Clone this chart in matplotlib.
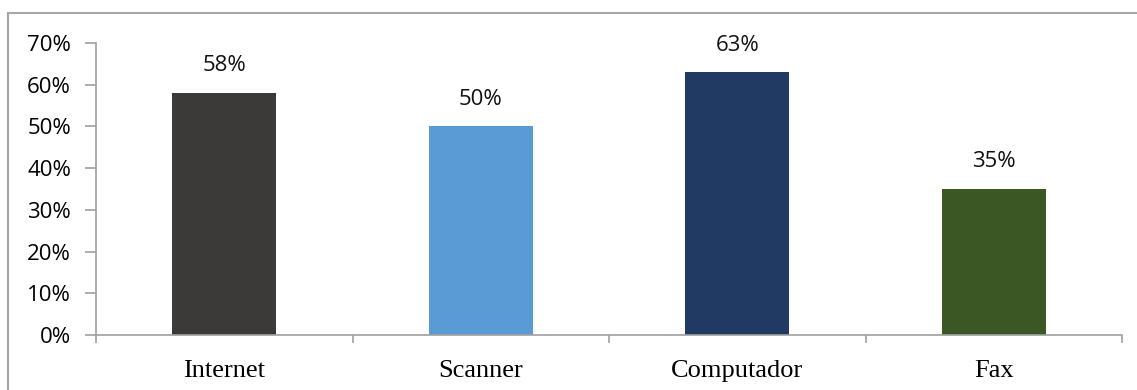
import matplotlib.pyplot as plt
from matplotlib.patches import Rectangle
from matplotlib.ticker import FuncFormatter, FixedLocator
import numpy as np

categories = ["Internet", "Scanner", "Computador", "Fax"]
values = [0.58, 0.50, 0.63, 0.35]
colors = ["#3b3a38", "#5b9bd5", "#213a63", "#3a5724"]
yticks = [0.0, 0.1, 0.2, 0.3, 0.4, 0.5, 0.6, 0.7]

W, H = 1137, 390
fig = plt.figure(figsize=(W / 100, H / 100), dpi=100)
ax = fig.add_axes([96 / W, 1 - 335 / H, (1122 - 96) / W, (335 - 43) / H])

x = np.arange(len(categories))
ax.bar(x, values, width=0.405, color=colors, zorder=2)

for xi, v in zip(x, values):
    ax.text(xi, v + 0.04, f"{v * 100:.0f}%", ha="center", va="bottom",
            fontsize=16, family="Open Sans", color="#111111")

ax.set_xlim(-0.5, len(categories) - 0.5)
ax.set_ylim(0, 0.7)
ax.set_yticks(yticks)
ax.yaxis.set_major_formatter(FuncFormatter(lambda v, _: f"{v * 100:.0f}%"))
for lbl in ax.get_yticklabels():
    lbl.set_family("Open Sans")
    lbl.set_fontsize(16)

# category labels centred under bars, ticks on category boundaries
ax.set_xticks(x)
ax.set_xticklabels(categories, family="Liberation Serif", fontsize=19)
ax.tick_params(axis="x", length=0, pad=18)
ax.xaxis.set_minor_locator(FixedLocator(np.arange(-0.5, len(categories), 1.0)))
ax.tick_params(axis="x", which="minor", length=6, color="#a0a0a0", width=1.2)
ax.tick_params(axis="y", length=8, color="#a0a0a0", width=1.2, pad=10)

for side in ("top", "right"):
    ax.spines[side].set_visible(False)
for side in ("left", "bottom"):
    ax.spines[side].set_color("#a0a0a0")
    ax.spines[side].set_linewidth(1.2)

# outer chart frame
fig.add_artist(Rectangle((8 / W, -0.1), 1.2, 1 - 13 / H + 0.1,
                         transform=fig.transFigure, fill=False,
                         edgecolor="#a6a6a6", linewidth=1.5))

fig.savefig("out.png", dpi=100)
